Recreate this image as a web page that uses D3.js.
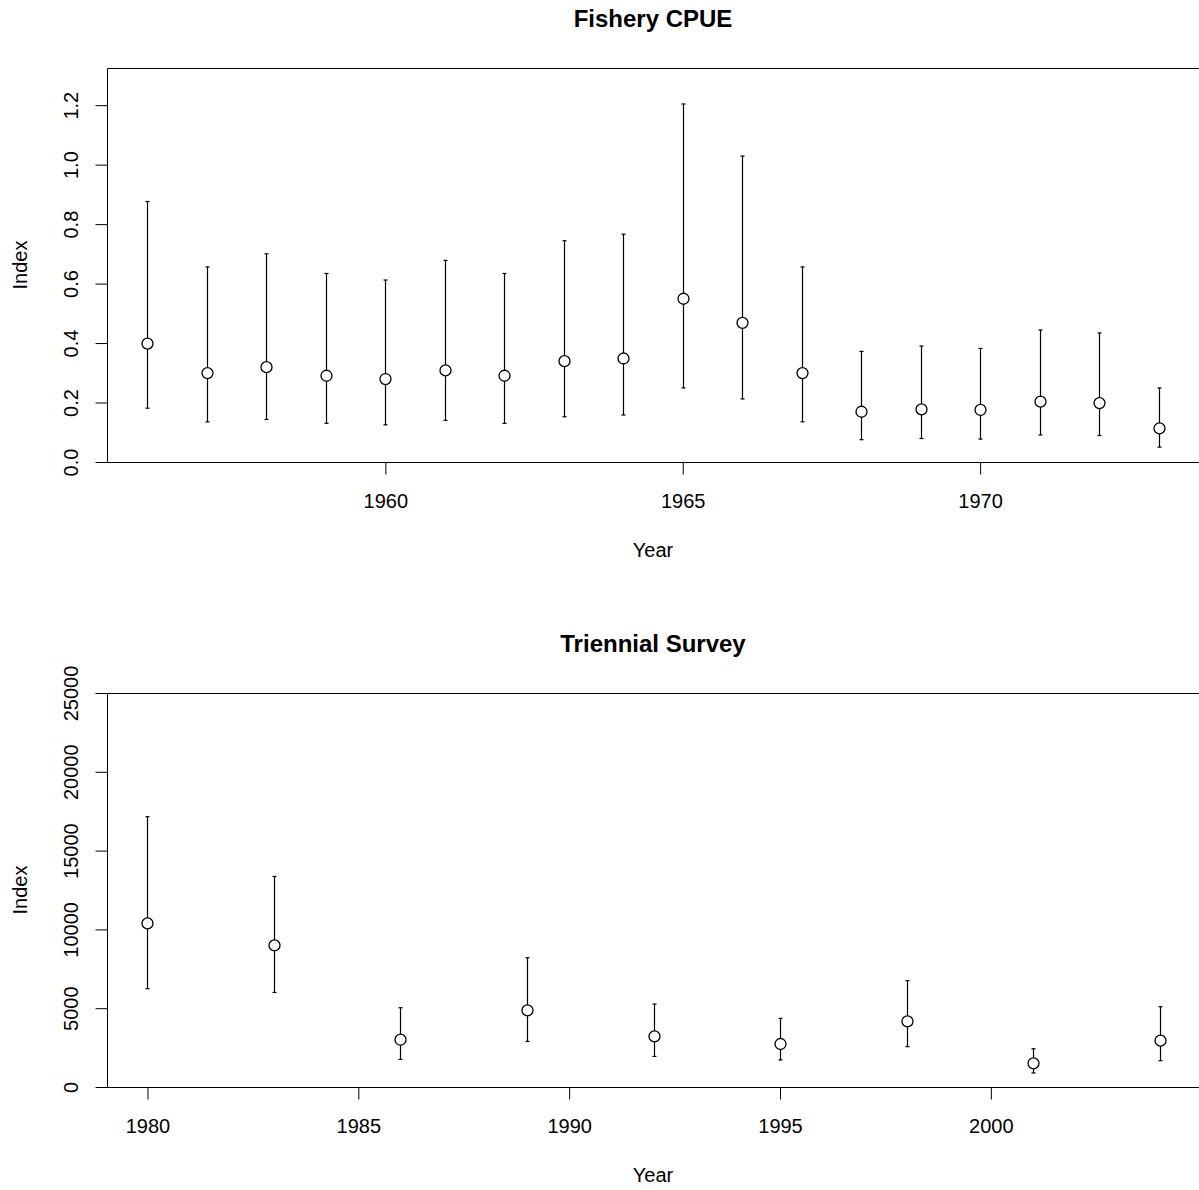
<!DOCTYPE html>
<html><head><meta charset="utf-8">
<script src="https://cdn.jsdelivr.net/npm/d3@7"></script>
<style>
html,body{margin:0;padding:0;background:#fff;}
text{font-family:"Liberation Sans",Arial,sans-serif;fill:#000;}
</style></head>
<body>
<svg id="chart" width="1199" height="1190"></svg>
<script>
// ---- Data: Fishery CPUE ----
const cpueYears = [1956,1957,1958,1959,1960,1961,1962,1963,1964,1965,1966,1967,1968,1969,1970,1971,1972,1973];
const cpueIndex = [0.398,0.299,0.319,0.290,0.279,0.308,0.290,0.339,0.348,0.549,0.468,0.299,0.169,0.177,0.175,0.203,0.198,0.113];
const cpueLower = [0.181,0.135,0.143,0.130,0.125,0.140,0.130,0.152,0.158,0.249,0.212,0.135,0.075,0.079,0.077,0.091,0.089,0.050];
const cpueUpper = [0.876,0.656,0.700,0.634,0.612,0.678,0.634,0.744,0.766,1.204,1.029,0.656,0.372,0.390,0.382,0.444,0.434,0.249];
const cpueXTicks = [1960,1965,1970];
const cpueYTicks = [0.0,0.2,0.4,0.6,0.8,1.0,1.2];

// ---- Data: Triennial Survey ----
const survYears = [1980,1983,1986,1989,1992,1995,1998,2001,2004];
const survIndex = [10380,8985,3000,4860,3210,2730,4160,1500,2940];
const survLower = [6240,6000,1750,2895,1940,1715,2560,890,1670];
const survUpper = [17150,13360,5030,8200,5265,4355,6745,2430,5095];
const survXTicks = [1980,1985,1990,1995,2000];
const survYTicks = [0,5000,10000,15000,20000,25000];

const svg = d3.select("#chart");

function panel(cfg){
  const g = svg.append("g");
  const x = d3.scaleLinear().domain(cfg.xDomain).range([cfg.left, cfg.right]);
  const y = d3.scaleLinear().domain(cfg.yDomain).range([cfg.bottom, cfg.top]);

  // box
  g.append("path")
    .attr("d", `M${cfg.right+2},${cfg.top+0.5}H${cfg.left+0.5}V${cfg.bottom+0.5}H${cfg.right+2}`)
    .attr("fill","none").attr("stroke","#000").attr("stroke-width",1);

  // x axis
  const xa = g.append("g").attr("transform",`translate(0,${cfg.bottom+0.5})`)
    .call(d3.axisBottom(x).tickValues(cfg.xTicks).tickSize(12).tickPadding(20).tickFormat(d3.format("d")));
  xa.select(".domain").remove();
  xa.selectAll("line").attr("stroke","#000");
  xa.selectAll("text").attr("font-size","20px").attr("dy","0.35em").attr("y",38.5);

  // y axis
  const ya = g.append("g").attr("transform",`translate(${cfg.left+0.5},0)`)
    .call(d3.axisLeft(y).tickValues(cfg.yTicks).tickSize(12).tickFormat(cfg.yFormat));
  ya.select(".domain").remove();
  ya.selectAll("line").attr("stroke","#000");
  ya.selectAll("text").remove();
  ya.selectAll(".tick").append("text")
    .attr("transform", "translate(-29.5,0) rotate(-90)")
    .attr("text-anchor","middle")
    .attr("font-size","20px")
    .text(d=>cfg.yFormat(d));

  // titles
  const cx = (cfg.left + 1199)/2;
  g.append("text").attr("x",cx).attr("y",cfg.top-41.5).attr("text-anchor","middle")
    .attr("font-size","24px").attr("font-weight","bold").text(cfg.title);
  g.append("text").attr("x",cx).attr("y",cfg.bottom+95).attr("text-anchor","middle")
    .attr("font-size","20px").text("Year");
  g.append("text").attr("transform",`translate(27,${(cfg.top+cfg.bottom)/2}) rotate(-90)`)
    .attr("text-anchor","middle").attr("font-size","20px").text("Index");

  // error bars
  const data = cfg.years.map((yr,i)=>({yr, v:cfg.idx[i], lo:cfg.lo[i], hi:cfg.hi[i]}));
  const eb = g.append("g").attr("stroke","#000").attr("stroke-width",1.2).attr("fill","none");
  eb.selectAll("line.v").data(data).enter().append("line").attr("class","v")
    .attr("x1",d=>Math.round(x(d.yr))+0.5).attr("x2",d=>Math.round(x(d.yr))+0.5)
    .attr("y1",d=>y(d.lo)).attr("y2",d=>y(d.hi));
  eb.selectAll("line.cl").data(data).enter().append("line").attr("class","cl")
    .attr("x1",d=>Math.round(x(d.yr))-1.5).attr("x2",d=>Math.round(x(d.yr))+2.5)
    .attr("y1",d=>y(d.lo)).attr("y2",d=>y(d.lo));
  eb.selectAll("line.ch").data(data).enter().append("line").attr("class","ch")
    .attr("x1",d=>Math.round(x(d.yr))-1.5).attr("x2",d=>Math.round(x(d.yr))+2.5)
    .attr("y1",d=>y(d.hi)).attr("y2",d=>y(d.hi));
  g.selectAll("circle").data(data).enter().append("circle")
    .attr("cx",d=>Math.round(x(d.yr))+0.5).attr("cy",d=>y(d.v)).attr("r",5.5)
    .attr("fill","#fff").attr("stroke","#000").attr("stroke-width",1.3);
}

panel({
  title:"Fishery CPUE", years:cpueYears, idx:cpueIndex, lo:cpueLower, hi:cpueUpper,
  xDomain:[1955.32,1973.68], yDomain:[0,1.325],
  left:107, right:1199, top:68, bottom:462,
  xTicks:cpueXTicks, yTicks:cpueYTicks, yFormat:d3.format(".1f")
});
panel({
  title:"Triennial Survey", years:survYears, idx:survIndex, lo:survLower, hi:survUpper,
  xDomain:[1979.04,2004.96], yDomain:[0,25000],
  left:107, right:1200, top:693, bottom:1087,
  xTicks:survXTicks, yTicks:survYTicks, yFormat:d3.format("d")
});
</script>
</body></html>
